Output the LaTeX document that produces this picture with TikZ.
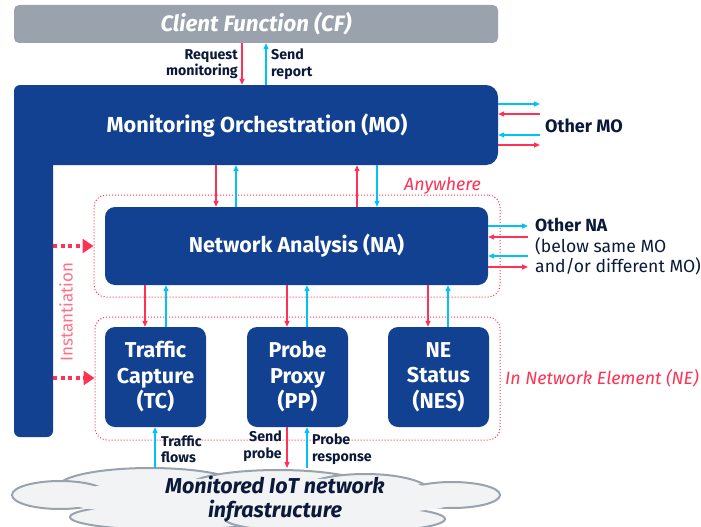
\documentclass[tikz,border=0pt]{standalone}
\usepackage{fontspec}
\setmainfont{Fira Sans}
\usetikzlibrary{arrows.meta}
\definecolor{nokiablue}{HTML}{124191}
\definecolor{redc}{HTML}{FF3154}
\definecolor{cyanc}{HTML}{00C3F5}
\definecolor{navy}{HTML}{0B1A3A}
\definecolor{cfgray}{HTML}{9AA3AD}
\definecolor{cloudfill}{HTML}{F2F3F5}
\definecolor{pinktxt}{HTML}{FF7088}
\tikzset{
  bluebox/.style={fill=nokiablue, rounded corners=10pt, text=white,
    font=\bfseries\fontsize{21.5}{25.5}\selectfont, align=center, inner sep=0pt},
  zone/.style={draw=redc, line width=1pt, dash pattern=on 1pt off 2pt,
    rounded corners=12pt, inner sep=0pt},
  redarr/.style={draw=redc, line width=1.3pt, -{Triangle[length=6pt,width=5pt]}},
  cyanarr/.style={draw=cyanc, line width=1.3pt, -{Triangle[length=6pt,width=5pt]}},
  inst/.style={draw=redc, line width=4pt, dash pattern=on 4pt off 3.5pt,
    -{Triangle[length=11pt,width=14pt]}},
  lbl/.style={text=navy, font=\bfseries\fontsize{14.2}{16.5}\selectfont, inner sep=0pt},
  zonelbl/.style={text=redc, font=\itshape\fontsize{17.8}{20}\selectfont, inner sep=0pt},
  cloudpart/.style={fill=cloudfill, draw=cfgray, line width=2pt}
}
\begin{document}
\begin{tikzpicture}[x=1pt,y=-1pt]
\clip (0,0) rectangle (701,527);
\fill[white] (0,0) rectangle (701,527);

% client function
\node[fill=cfgray, rounded corners=5pt, minimum width=484pt, minimum height=38pt,
  text=white, font=\bfseries\itshape\fontsize{22.3}{24}\selectfont] (cf) at (256,24) {Client Function (CF)};

% monitoring orchestration: top bar plus left leg
\node[bluebox, minimum width=39pt, minimum height=352pt, rounded corners=6pt] (moleg) at (33.5,261) {};
\node[bluebox, minimum width=484pt, minimum height=80pt, rounded corners=12pt] (mo) at (256,125) {};
\fill[nokiablue] (14,100) rectangle (53,165);
\node[text=white, font=\bfseries\fontsize{21.7}{24}\selectfont] (molbl) at (257,126) {Monitoring Orchestration (MO)};

% zones
\node[zone, minimum width=406pt, minimum height=102pt] (anyzone) at (297,246) {};
\node[zone, minimum width=405pt, minimum height=123pt] (nezone) at (297.5,378.5) {};
\node[zonelbl, anchor=east] (anylbl) at (481,186) {Anywhere};
\node[zonelbl, anchor=west] (nelbl) at (505,378) {In Network Element (NE)};

% functions
\node[bluebox, minimum width=383pt, minimum height=78pt] (na) at (296.5,246) {Network Analysis (NA)};
\node[bluebox, minimum width=101pt, minimum height=100pt] (tc) at (155.5,377) {Traffic\\Capture\\(TC)};
\node[bluebox, minimum width=101pt, minimum height=100pt] (pp) at (297.5,377) {Probe\\Proxy\\(PP)};
\node[bluebox, minimum width=101pt, minimum height=100pt] (nes) at (438.5,377) {NE\\Status\\(NES)};

% cloud
\draw[cloudpart] (150,487) ellipse (92 and 19);
\draw[cloudpart] (278,488) ellipse (92 and 18);
\draw[cloudpart] (365,492) ellipse (65 and 18);
\draw[cloudpart] (452,495) ellipse (48 and 13);
\draw[cloudpart] (60,495) ellipse (48 and 14);
\draw[cloudpart] (170,517) ellipse (100 and 13);
\draw[cloudpart] (335,519) ellipse (110 and 14);
\fill[cloudfill] (262,498) ellipse (205 and 20);
\node[text=navy, align=center, font=\bfseries\itshape\fontsize{21.5}{24}\selectfont] (cloud) at (275,499)
  {Monitored IoT network\\infrastructure};
\coordinate (cloudtop) at (275,468);

% CF <-> MO
\draw[redarr] (cf.south -| 242,0) -- (mo.north -| 242,0);
\draw[cyanarr] (mo.north -| 266,0) -- (cf.south -| 266,0);
\node[lbl, anchor=east, align=right] (reqlbl) at (238,64) {Request\\monitoring};
\node[lbl, anchor=west, align=left] (replbl) at (271,64) {Send\\report};

% MO <-> other MO
\coordinate (omo) at (540,0);
\draw[cyanarr] (mo.east |- 0,104) -- (omo |- 0,104);
\draw[redarr] (omo |- 0,114) -- (mo.east |- 0,114);
\draw[cyanarr] (omo |- 0,135) -- (mo.east |- 0,135);
\draw[redarr] (mo.east |- 0,145) -- (omo |- 0,145);
\node[text=navy, font=\bfseries\fontsize{18}{20}\selectfont, anchor=west, inner sep=0pt] (omolbl) at (545,126) {Other MO};

% MO <-> NA
\draw[redarr] (mo.south -| 216,0) -- (na.north -| 216,0);
\draw[cyanarr] (na.north -| 236,0) -- (mo.south -| 236,0);
\draw[redarr] (na.north -| 357,0) -- (mo.south -| 357,0);
\draw[cyanarr] (mo.south -| 377,0) -- (na.north -| 377,0);

% NA <-> other NA
\coordinate (ona) at (528,0);
\draw[cyanarr] (na.east |- 0,226) -- (ona |- 0,226);
\draw[redarr] (ona |- 0,237) -- (na.east |- 0,237);
\draw[cyanarr] (ona |- 0,256) -- (na.east |- 0,256);
\draw[redarr] (na.east |- 0,267) -- (ona |- 0,267);
\node[text=navy, font=\fontsize{17.6}{20.5}\selectfont, anchor=west, align=left, inner sep=0pt] (onalbl) at (535,247)
  {\textbf{Other NA}\\(below same MO\\and/or different MO)};

% instantiation
\draw[inst] (moleg.east |- 0,246) -- (anyzone.west |- 0,246);
\draw[inst] (moleg.east |- 0,378) -- (nezone.west |- 0,378);
\node[text=pinktxt, rotate=90, font=\fontsize{17}{18}\selectfont, inner sep=0pt] (instlbl) at (66,312) {Instantiation};

% NA <-> NE functions
\foreach \f/\xr/\xc in {tc/145/166, pp/287/307, nes/428/448} {
  \draw[redarr] (na.south -| \xr,0) -- (\f.north -| \xr,0);
  \draw[cyanarr] (\f.north -| \xc,0) -- (na.south -| \xc,0);
}

% NE functions <-> monitored network
\draw[cyanarr] (cloudtop -| 155,0) -- (tc.south -| 155,0);
\draw[redarr] (pp.south -| 287,0) -- (cloudtop -| 287,0);
\draw[cyanarr] (cloudtop -| 307,0) -- (pp.south -| 307,0);
\node[lbl, anchor=west, align=left] (tflbl) at (161,449) {Traffic\\flows};
\node[lbl, anchor=east, align=right] (splbl) at (282,446) {Send\\probe};
\node[lbl, anchor=west, align=left] (prlbl) at (312,449) {Probe\\response};
\end{tikzpicture}
\end{document}
